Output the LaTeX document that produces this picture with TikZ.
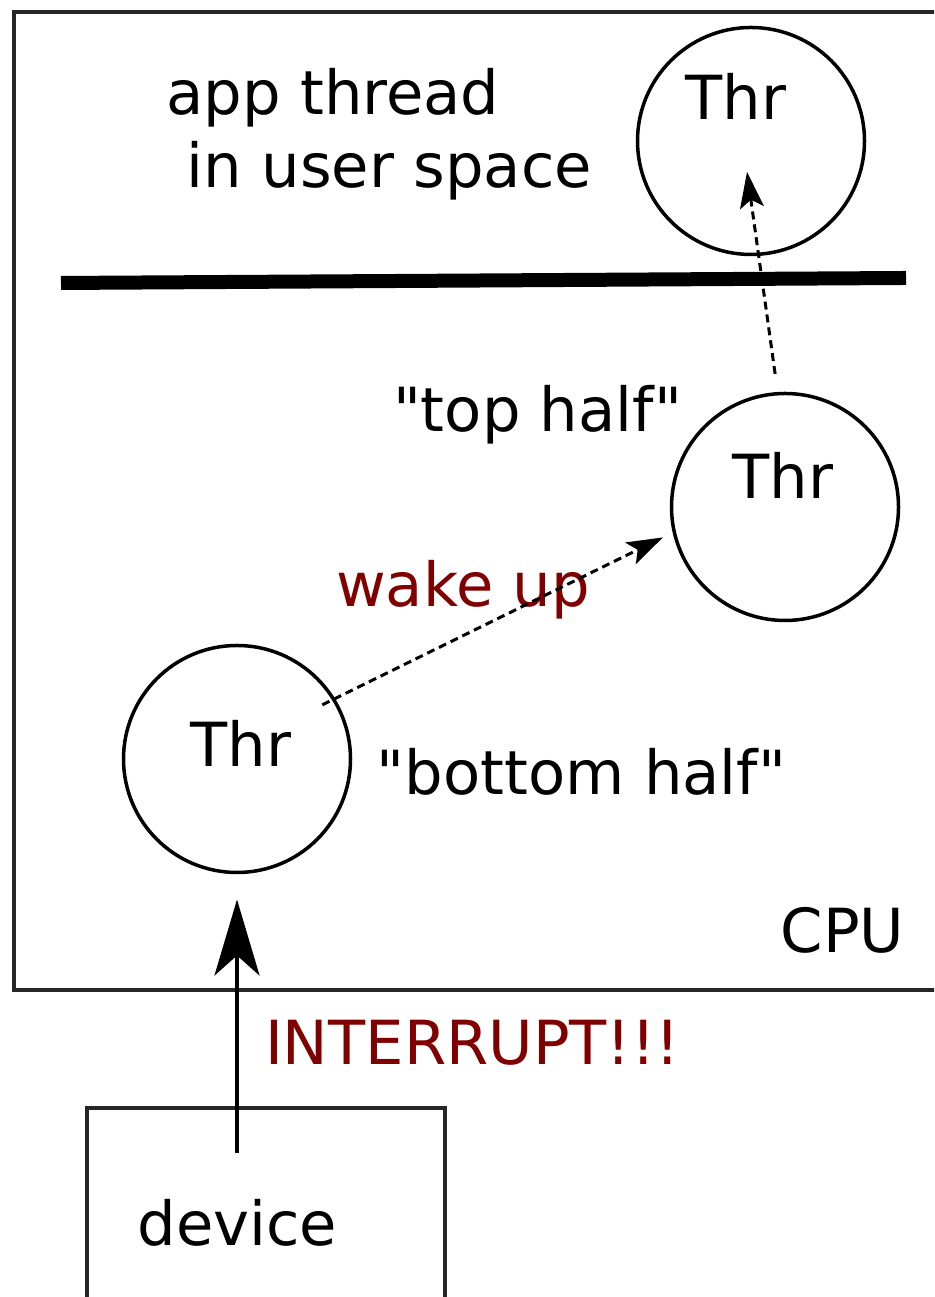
\documentclass[tikz,border=0pt]{standalone}
\usepackage{fontspec}
\newfontfamily\dejavu{DejaVu Sans}
\usetikzlibrary{arrows.meta, positioning}
\definecolor{irqred}{HTML}{800000}

\begin{document}
\begin{tikzpicture}[
        font=\dejavu\fontsize{17.3}{21}\selectfont,
        thread/.style={
            circle,
            draw=black,
            line width=0.035cm,
            minimum size=2.27cm,
            inner sep=0pt,
            outer sep=0pt
        },
        caption/.style={anchor=base, inner sep=0pt},
        frame/.style={draw=black!85, line width=0.04cm},
        divider/.style={line width=0.14cm},
        wakeup/.style={
            -{Stealth[length=0.36cm, width=0.24cm, inset=0.08cm]},
            dash pattern=on 0.08cm off 0.05cm,
            line width=0.03cm
        },
        irq/.style={
            -{Stealth[length=0.76cm, width=0.45cm, inset=0.2cm]},
            line width=0.04cm
        }
    ]
        \useasboundingbox (0,0) rectangle (9.34,12.97);
        \clip (0,0) rectangle (9.34,12.97);

        \draw [frame] (0.14,3.07) rectangle (9.60,12.85);
        \draw [divider] (0.61,10.14) -- (9.06,10.19);

        \node (appthr) [thread] at (7.51,11.56) {};
        \node (topthr) [thread] at (7.85,7.90) {};
        \node (botthr) [thread] at (2.37,5.38) {};
        \node (appname) [caption] at ([xshift=-0.15cm, yshift=0.21cm]appthr.center) {Thr};
        \node (topname) [caption] at ([xshift=-0.02cm, yshift=0.08cm]topthr.center) {Thr};
        \node (botname) [caption] at ([xshift=0.04cm, yshift=-0.08cm]botthr.center) {Thr};

        \node (apptext) [caption] at (3.33,11.82) {app thread};
        \node (usertext) [caption] at (3.895,11.09) {in user space};
        \node (toptext) [caption] at (5.375,8.65) {"top half"};
        \node (bottext) [caption] at (5.815,5.02) {"bottom half"};
        \node (waketext) [caption, text=irqred] at (4.63,6.90) {wake up};
        \node (cpu) [caption] at (8.425,3.44) {CPU};
        \node (irqtext) [caption, text=irqred] at (4.725,2.32) {INTERRUPT!!!};

        \node (device) [frame, rectangle, minimum width=3.58cm, minimum height=2.2cm,
            inner sep=0pt, outer sep=0pt, anchor=north] at (2.66,1.89) {};
        \node (devname) [caption] at (2.375,0.51) {device};
        \coordinate (irqsrc) at (2.37,1.44);

        \draw [irq] (irqsrc) -- ([yshift=-0.27cm]botthr.south);
        \draw [wakeup] ([xshift=-0.11cm, yshift=-0.06cm]botthr.32) -- ([xshift=-0.12cm, yshift=-0.03cm]topthr.194);
        \draw [wakeup] ([yshift=0.2cm]topthr.95) -- ([xshift=-0.04cm, yshift=-0.31cm]appthr.center);
    \end{tikzpicture}
\end{document}
